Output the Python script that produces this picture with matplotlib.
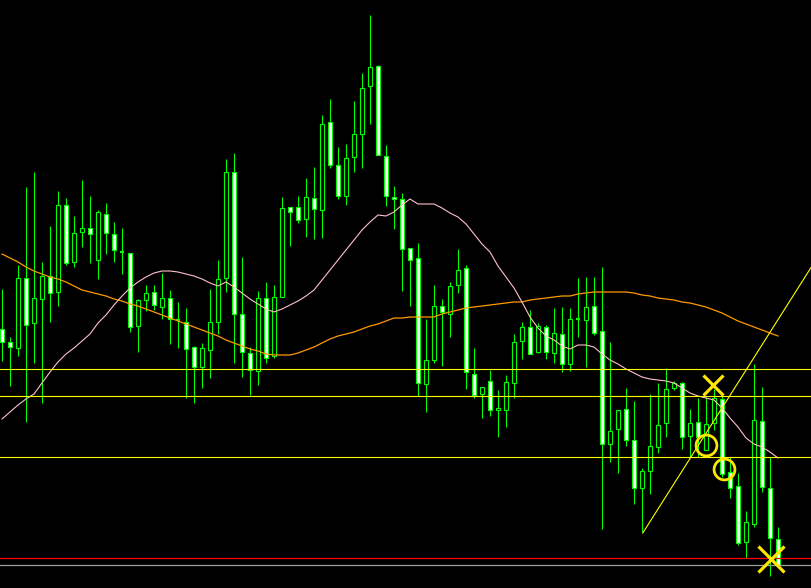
import matplotlib
matplotlib.use("Agg")
import matplotlib.pyplot as plt
import numpy as np

# ---- candle data (price units, higher = up) ----
opens = [259,246,240,310,265,289,312,296,383,326,356,360,328,374,354,336,335,262,288,296,
         281,290,268,266,241,221,238,266,310,416,274,235,217,290,232,291,381,381,369,390,
         378,466,423,392,431,454,502,522,432,391,389,340,330,204,228,282,274,303,320,214,
         194,207,178,178,205,247,261,236,261,235,254,224,269,268,282,257,144,159,179,148,
         100,117,141,165,200,205,152,166,138,165,189,116,102,46,64,167,100,49]
highs = [299,251,323,401,416,326,362,397,390,372,408,392,378,385,366,360,335,289,303,303,
         315,298,286,280,242,245,299,328,429,435,331,241,297,306,303,391,381,392,410,421,
         473,489,441,444,487,515,573,523,443,402,395,340,345,269,303,289,306,339,323,240,
         201,218,198,213,254,266,278,265,263,280,281,280,310,311,311,321,246,178,200,187,
         120,194,205,220,207,206,179,190,191,199,195,131,115,77,224,201,131,61]
lows = [227,202,232,166,225,185,266,282,323,321,341,325,309,334,326,314,256,236,277,278,
        269,244,240,190,185,200,210,254,296,225,211,193,203,225,230,291,342,365,351,349,
        350,420,389,383,416,420,464,433,382,359,297,282,192,176,225,222,251,295,199,190,
        170,172,151,161,190,229,234,235,229,225,216,217,251,221,253,59,126,115,142,84,
        56,94,135,151,198,139,131,131,138,158,111,90,43,30,61,96,12,22]
closes = [246,241,310,263,290,312,295,383,325,355,360,354,376,355,338,336,261,288,295,283,
          290,269,268,239,221,240,266,309,416,274,236,218,290,230,291,380,376,368,391,379,
          464,423,392,430,454,500,521,433,392,389,339,328,205,228,282,276,302,318,216,193,
          201,178,180,206,246,261,234,262,236,255,224,269,269,281,255,144,157,178,148,100,
          117,142,163,199,205,151,165,151,164,190,114,100,45,66,168,101,50,23]

# moving averages
ma_slow = [334,330,326,321,317,314,311,309,306,302,298,296,294,292,289,287,284,282,279,276,
           273,270,267,264,261,258,255,252,248,245,242,239,237,234,233,233,233,235,238,241,
           245,249,252,254,256,259,262,264,267,270,270,271,271,271,271,274,276,278,280,281,
           282,283,284,285,286,286,288,289,290,291,292,292,294,295,296,296,296,296,296,295,
           293,292,290,289,288,286,285,283,281,278,275,271,267,264,261,258,255,252]
ma_fast = [169,176,183,189,194,205,216,226,234,240,247,254,265,273,283,292,300,306,311,315,
           317,317,316,314,312,309,305,302,306,301,295,289,284,279,276,279,283,287,292,298,
           308,318,328,338,348,358,366,373,372,376,383,389,384,384,384,380,375,371,364,354,
           344,336,322,311,300,286,271,260,252,248,242,239,243,243,241,234,228,224,219,215,
           211,209,208,207,205,200,195,192,190,188,180,170,161,150,144,141,136,130]

# horizontal levels
level_yellow = [219, 192, 131]
level_red = 30
level_gray = 23

# trend line endpoints (candle index, price)
trend_x = [80.1, 101.25]
trend_p = [55, 322]

# annotations
cross_x = [88.9, 96.1]
cross_p = [203, 29]
cross_size = [15, 19]
circle_x = [88.0, 90.25]
circle_p = [143, 119]

n = len(opens)
x = np.arange(n)

fig = plt.figure(figsize=(8.12, 5.88), dpi=100, facecolor="black")
ax = fig.add_axes([0, 0, 1, 1])
ax.set_facecolor("black")
ax.set_xlim(-0.25, 101.25)
ax.set_ylim(0, 588)
ax.axis("off")

green = "#00ff00"
o = np.array(opens); c = np.array(closes); h = np.array(highs); l = np.array(lows)

# wicks
ax.vlines(x, l, h, color=green, linewidth=0.8, zorder=2)

body_w = 0.55
bull = c > o
bear = c < o
doji = c == o
ax.bar(x[bull], (c - o)[bull], bottom=o[bull], width=body_w, facecolor="black",
       edgecolor=green, linewidth=0.8, zorder=3)
ax.bar(x[bear], (o - c)[bear], bottom=c[bear], width=body_w, facecolor="white",
       edgecolor=green, linewidth=0.8, zorder=3)
ax.hlines(o[doji], x[doji] - body_w / 2, x[doji] + body_w / 2, color=green,
          linewidth=1.6, zorder=3)

# moving averages
ax.plot(x, ma_slow, color="#ff9a00", linewidth=0.9, zorder=4)
ax.plot(x, ma_fast, color="#ffc0cb", linewidth=0.8, zorder=4)

# horizontal levels
for lv in level_yellow:
    ax.axhline(lv, color="#ffff00", linewidth=0.8, zorder=5)
ax.axhline(level_red, color="#ff0000", linewidth=0.9, zorder=5)
ax.axhline(level_gray, color="#a0a0a0", linewidth=0.9, zorder=5)

# trend line
ax.plot(trend_x, trend_p, color="#ffff00", linewidth=0.8, zorder=5)

# marks
for cx, cp, s in zip(cross_x, cross_p, cross_size):
    ax.plot(cx, cp, marker="x", markersize=s, markeredgewidth=2.3,
            color="#ffe600", linestyle="none", zorder=6)
ax.plot(circle_x, circle_p, marker="o", markersize=15, markerfacecolor="none",
        markeredgecolor="#ffe600", markeredgewidth=2.0, linestyle="none", zorder=6)

fig.savefig("out.png", dpi=100, facecolor="black")
